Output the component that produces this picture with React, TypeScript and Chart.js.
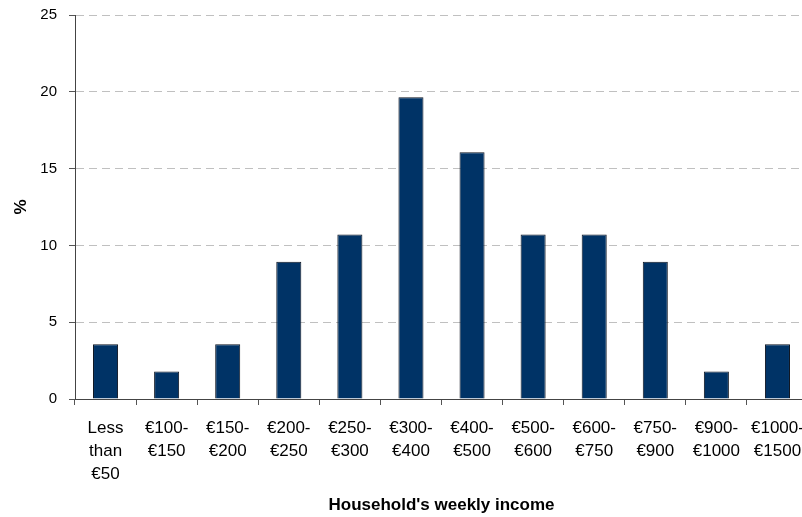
import React, { useEffect, useRef } from "react";
import { Chart, registerables } from "chart.js";

Chart.register(...registerables);

const categories: string[][] = [
  ["Less", "than", "€50"],
  ["€100-", "€150"],
  ["€150-", "€200"],
  ["€200-", "€250"],
  ["€250-", "€300"],
  ["€300-", "€400"],
  ["€400-", "€500"],
  ["€500-", "€600"],
  ["€600-", "€750"],
  ["€750-", "€900"],
  ["€900-", "€1000"],
  ["€1000-", "€1500"],
];

const percentValues: number[] = [3.57, 1.79, 3.57, 8.93, 10.71, 19.64, 16.07, 10.71, 10.71, 8.93, 1.79, 3.57];

const yTitle = "%";
const xTitle = "Household's weekly income";

const FONT = "'Liberation Sans', Arial, sans-serif";

export default function App() {
  const canvasRef = useRef<HTMLCanvasElement | null>(null);

  useEffect(() => {
    document.documentElement.style.overflow = "hidden";
    document.body.style.overflow = "hidden";
    document.body.style.margin = "0";
    const canvas = canvasRef.current;
    if (!canvas) return;
    const chart = new Chart(canvas, {
      type: "bar",
      data: {
        labels: categories,
        datasets: [
          {
            data: percentValues,
            backgroundColor: "#003366",
            borderColor: "#0d1420",
            borderWidth: 1,
            categoryPercentage: 1,
            barPercentage: 0.41,
          },
        ],
      },
      options: {
        responsive: false,
        animation: false,
        devicePixelRatio: 1,
        layout: { padding: { top: 15, right: 4, left: 0, bottom: 0 } },
        plugins: {
          legend: { display: false },
          tooltip: { enabled: false },
        },
        scales: {
          x: {
            grid: {
              display: true,
              drawOnChartArea: false,
              drawTicks: true,
              tickLength: 6,
              tickColor: "#555",
              tickWidth: 1,
            },
            border: { display: true, color: "#444", width: 1 },
            ticks: {
              color: "#000",
              padding: 12,
              maxRotation: 0,
              autoSkip: false,
              font: { family: FONT, size: 17, lineHeight: "23px" },
            },
            title: {
              display: true,
              text: xTitle,
              color: "#000",
              font: { family: FONT, size: 17, weight: "bold", lineHeight: 1.2 },
              padding: { top: 0, bottom: 1 },
            },
            afterFit: (scale: any) => {
              scale.height = 118;
              scale.paddingLeft = 0;
              scale.paddingRight = 0;
              scale.paddingTop = 0;
              scale.paddingBottom = 0;
            },
          },
          y: {
            min: 0,
            max: 25,
            ticks: {
              stepSize: 5,
              color: "#000",
              padding: 12,
              font: { family: FONT, size: 15 },
            },
            grid: {
              color: (ctx: any) => (ctx.tick && ctx.tick.value === 0 ? "rgba(0,0,0,0)" : "#c0c0c0"),
              lineWidth: 1,
              drawTicks: true,
              tickLength: 6,
              tickColor: "#555",
              tickWidth: 1,
              tickBorderDash: [],
            },
            border: { display: true, color: "#444", width: 1, dash: [8, 5] },
            title: {
              display: true,
              text: yTitle,
              color: "#000",
              font: { family: FONT, size: 17, weight: "bold", lineHeight: 1.2 },
              padding: { top: 11, bottom: 0 },
            },
            afterFit: (scale: any) => {
              scale.width = 75;
              scale.paddingLeft = 0;
              scale.paddingRight = 0;
              scale.paddingTop = 0;
              scale.paddingBottom = 0;
            },
          },
        },
      },
    });
    return () => chart.destroy();
  }, []);

  return (
    <div style={{ position: "fixed", left: 0, top: 0, width: 802, height: 517, overflow: "hidden", background: "#fff" }}>
      <canvas ref={canvasRef} width={812} height={517} style={{ display: "block", width: 812, height: 517 }} />
    </div>
  );
}
